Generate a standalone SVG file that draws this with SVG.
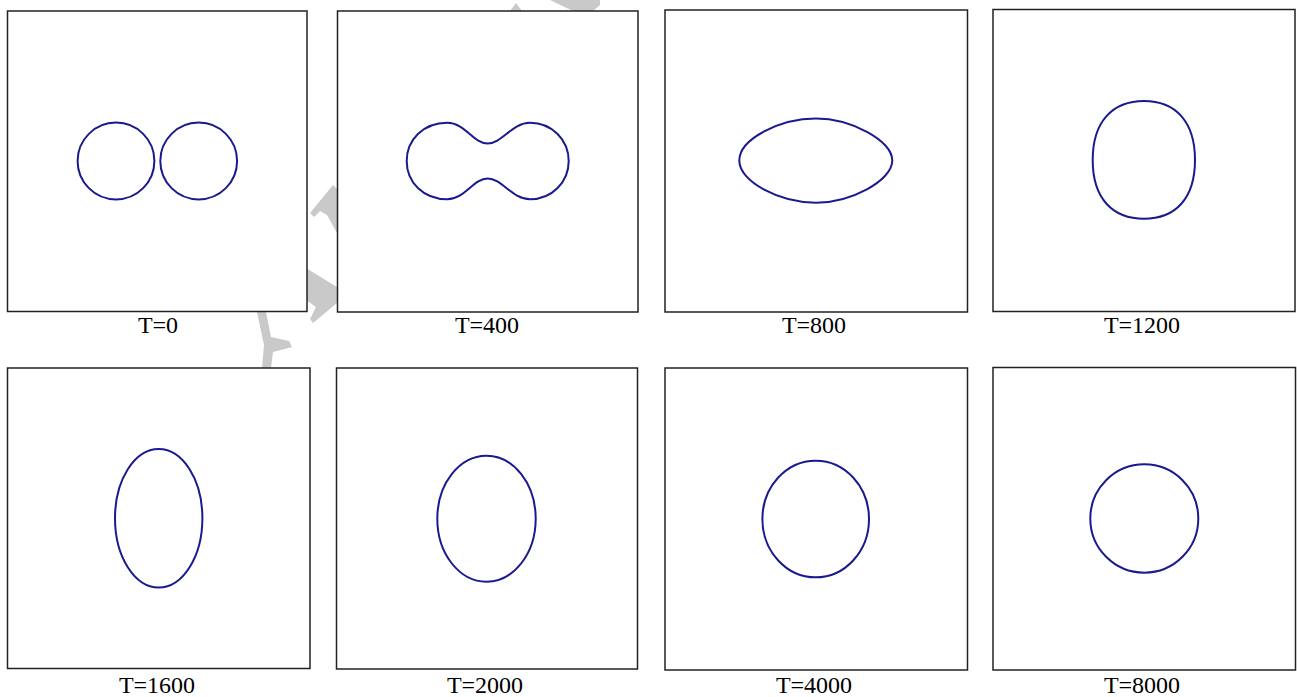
<svg xmlns="http://www.w3.org/2000/svg" width="1297" height="697" viewBox="0 0 1297 697">
<style>
.frame{fill:#ffffff;stroke:#222222;stroke-width:1.5}
.curve{fill:none;stroke:#1a1a8e;stroke-width:2}
.lbl{font-family:"Liberation Serif","Times New Roman",serif;font-size:24px;fill:#000000;text-anchor:middle}
.wm{fill:#c9c9c9;stroke:none}
</style>
<rect x="0" y="0" width="1297" height="697" fill="#ffffff"/>
<g id="watermark">
<polygon class="wm" points="333,185 337,189 337,233 327,215 320,211 314,217 310,213"/>
<polygon class="wm" points="306,268 337,287 337,303 313,323 310,319 316,307 306,300"/>
<polygon class="wm" points="257,312 266,312 271,337 289,341 292,347 273,352 271,368 262,368 264,345"/>
<polygon class="wm" points="510,11 516,3 522,11"/>
<polygon class="wm" points="550,0 600,0 600,5 593,11 573,11"/>
</g>
<g id="panel-t0">
<rect class="frame" x="7.5" y="11" width="299.5" height="300.5"/>
<circle class="curve" cx="116" cy="161" r="38.4"/>
<circle class="curve" cx="198.7" cy="161" r="38.4"/>
<text class="lbl" x="158" y="333">T=0</text>
</g>
<g id="panel-t400">
<rect class="frame" x="337.5" y="11" width="300.5" height="301"/>
<path class="curve" d="M487.7,143.5 C502,143.5 512,122.7 530,122.7 C552,122.7 568.7,140 568.7,161 C568.7,182 552,199.3 530,199.3 C512,199.3 502,178.5 487.7,178.5 C473.4,178.5 465,199.3 447.3,199.3 C423,199.3 406.7,182 406.7,161 C406.7,140 423,122.7 447.3,122.7 C465,122.7 473.4,143.5 487.7,143.5 Z"/>
<text class="lbl" x="487" y="333">T=400</text>
</g>
<g id="panel-t800">
<rect class="frame" x="665" y="10" width="302.5" height="302"/>
<path class="curve" d="M816,118.5 C850,118.5 892.3,140 892.3,160.5 C892.3,181 850,202.7 816,202.7 C780,202.7 739.3,182 739.3,160.5 C739.3,139 780,118.5 816,118.5 Z"/>
<text class="lbl" x="814" y="333">T=800</text>
</g>
<g id="panel-t1200">
<rect class="frame" x="993" y="9.5" width="302" height="302"/>
<path class="curve" d="M1144,101 C1175,101 1195,121 1195,160 C1195,199 1175,218.7 1144,218.7 C1113,218.7 1092.7,199 1092.7,160 C1092.7,121 1113,101 1144,101 Z"/>
<text class="lbl" x="1142" y="333">T=1200</text>
</g>
<g id="panel-t1600">
<rect class="frame" x="7.5" y="368" width="302.5" height="300.5"/>
<ellipse class="curve" cx="158.7" cy="518.3" rx="43.7" ry="69.3"/>
<text class="lbl" x="157" y="693">T=1600</text>
</g>
<g id="panel-t2000">
<rect class="frame" x="336.5" y="368" width="301" height="301"/>
<ellipse class="curve" cx="486.5" cy="518.7" rx="49.2" ry="63"/>
<text class="lbl" x="485" y="693">T=2000</text>
</g>
<g id="panel-t4000">
<rect class="frame" x="665" y="368" width="302.5" height="302"/>
<ellipse class="curve" cx="815.7" cy="519" rx="53.3" ry="58.3"/>
<text class="lbl" x="814" y="693">T=4000</text>
</g>
<g id="panel-t8000">
<rect class="frame" x="993" y="367.5" width="302.5" height="302.5"/>
<ellipse class="curve" cx="1144.3" cy="518.5" rx="54" ry="54.2"/>
<text class="lbl" x="1142" y="693">T=8000</text>
</g>
<g id="connectors"></g>
</svg>
